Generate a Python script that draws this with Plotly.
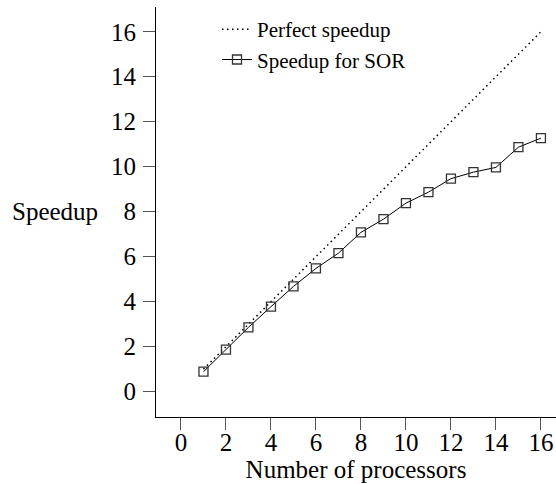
import plotly.graph_objects as go

processors = list(range(1, 17))
perfect = [1, 16]
perfect_x = [1, 16]
sor_speedup = [0.89, 1.87, 2.86, 3.78, 4.68, 5.48, 6.16, 7.08, 7.67, 8.38,
               8.87, 9.47, 9.76, 9.97, 10.87, 11.27]
tick_vals = list(range(0, 17, 2))

FONT = "Liberation Serif"

fig = go.Figure()
fig.add_trace(go.Scatter(
    x=perfect_x, y=perfect, mode="lines", name="Perfect speedup",
    line=dict(color="black", width=1.5, dash="1.5px,3.5px"),
))
fig.add_trace(go.Scatter(
    x=processors, y=sor_speedup, mode="lines+markers", name="Speedup for SOR",
    line=dict(color="black", width=1),
    marker=dict(symbol="square-open", size=9, color="#333333", line=dict(width=1.3)),
))

fig.update_layout(
    width=556, height=484,
    margin=dict(l=156, r=0, t=7, b=67),
    paper_bgcolor="white", plot_bgcolor="white",
    font=dict(family=FONT, color="black", size=25),
    showlegend=True,
    legend=dict(x=0.1525, y=0.995, xanchor="left", yanchor="top",
                font=dict(family=FONT, size=21, color="black"),
                bgcolor="rgba(0,0,0,0)", tracegroupgap=0),
    xaxis=dict(range=[-1.11, 16.67], tickvals=tick_vals, ticks="outside",
               ticklen=12, tickwidth=1, tickcolor="#555", showline=True,
               linecolor="black", linewidth=1, showgrid=False, zeroline=False,
               tickfont=dict(family=FONT, size=25), ticklabelstandoff=-9,
               title=dict(text="Number of processors", font=dict(family=FONT, size=25),
                          standoff=0)),
    yaxis=dict(range=[-1.124, 17.1], tickvals=tick_vals, ticks="outside",
               ticklen=12, tickwidth=1, tickcolor="#555", showline=True,
               linecolor="black", linewidth=1, showgrid=False, zeroline=False,
               tickfont=dict(family=FONT, size=25), ticklabelstandoff=2),
    annotations=[dict(text="Speedup", x=-0.14, xref="paper", y=8, yref="y",
                      xanchor="right", yanchor="middle", showarrow=False,
                      font=dict(family=FONT, size=25))],
)
fig.write_html("out.html")
